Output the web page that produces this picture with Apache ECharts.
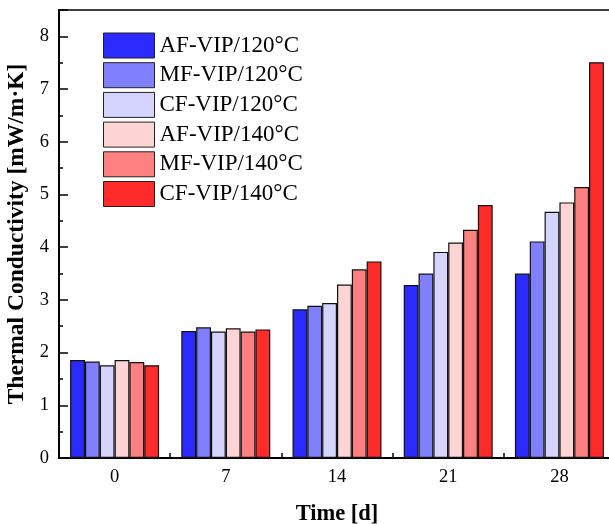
<!DOCTYPE html>
<html><head><meta charset="utf-8">
<script src="https://cdn.jsdelivr.net/npm/echarts@6/dist/echarts.min.js"></script>
<style>html,body{margin:0;padding:0;background:#fff}#c{width:609px;height:524px}</style>
</head><body><div id="c"></div>
<script>
const categories = ['0', '7', '14', '21', '28'];
const seriesNames = ['AF-VIP/120\u00b0C', 'MF-VIP/120\u00b0C', 'CF-VIP/120\u00b0C', 'AF-VIP/140\u00b0C', 'MF-VIP/140\u00b0C', 'CF-VIP/140\u00b0C'];
const afVip120 = [1.86, 2.41, 2.82, 3.28, 3.50];
const mfVip120 = [1.83, 2.48, 2.89, 3.50, 4.11];
const cfVip120 = [1.76, 2.40, 2.94, 3.91, 4.67];
const afVip140 = [1.86, 2.46, 3.29, 4.09, 4.85];
const mfVip140 = [1.82, 2.40, 3.58, 4.33, 5.14];
const cfVip140 = [1.76, 2.44, 3.73, 4.80, 7.51];
const colors = ['#2b2bff', '#8080ff', '#d4d4ff', '#ffd4d4', '#ff8080', '#ff2b2b'];
const allData = [afVip120, mfVip120, cfVip120, afVip140, mfVip140, cfVip140];
const font = '"Liberation Serif", "Times New Roman", serif';

const chart = echarts.init(document.getElementById('c'), null, {renderer: 'canvas'});
chart.setOption({
  animation: false,
  textStyle: {fontFamily: font, color: '#000'},
  grid: {left: 59, top: 10, width: 556, height: 448, show: true, borderColor: '#000', borderWidth: 1.5,
    backgroundColor: 'transparent', containLabel: false, outerBoundsMode: 'none'},
  legend: {
    orient: 'vertical', left: 103, top: 32.5, padding: 0,
    icon: 'rect',
    itemWidth: 51, itemHeight: 25, itemGap: 3.7,
    textStyle: {fontFamily: font, fontSize: 23, color: '#000'},
    itemStyle: {borderColor: '#222', borderWidth: 1},
    data: seriesNames
  },
  xAxis: {
    type: 'category', data: categories,
    name: 'Time [d]', nameLocation: 'middle', nameGap: 45,
    nameTextStyle: {fontFamily: font, fontSize: 22.5, fontWeight: 'bold', color: '#000'},
    axisLine: {lineStyle: {color: '#000', width: 2}},
    axisTick: {show: true, inside: true, length: 5, lineStyle: {color: '#000', width: 1.5}},
    axisLabel: {fontFamily: font, fontSize: 18.5, color: '#000', margin: 10}
  },
  yAxis: {
    type: 'value', min: 0, max: 8.5, interval: 1,
    name: 'Thermal Conductivity [mW/m\u00b7K]', nameLocation: 'middle', nameGap: 24,
    nameTextStyle: {fontFamily: font, fontSize: 23.5, fontWeight: 'bold', color: '#000'},
    axisLine: {show: true, lineStyle: {color: '#000', width: 2}},
    axisTick: {show: true, inside: true, length: 9, lineStyle: {color: '#000', width: 1.5}},
    minorTick: {show: true, splitNumber: 2, length: 4, lineStyle: {color: '#000', width: 1.5}},
    splitLine: {show: false},
    axisLabel: {fontFamily: font, fontSize: 18.5, color: '#000', margin: 10,
      formatter: v => (v > 8 ? '' : String(v))}
  },
  series: seriesNames.map((n, i) => ({
    name: n, type: 'bar', data: allData[i],
    barGap: '0%', barCategoryGap: '20%',
    itemStyle: {color: colors[i], borderColor: '#111', borderWidth: 1.2}
  }))
});
</script></body></html>
